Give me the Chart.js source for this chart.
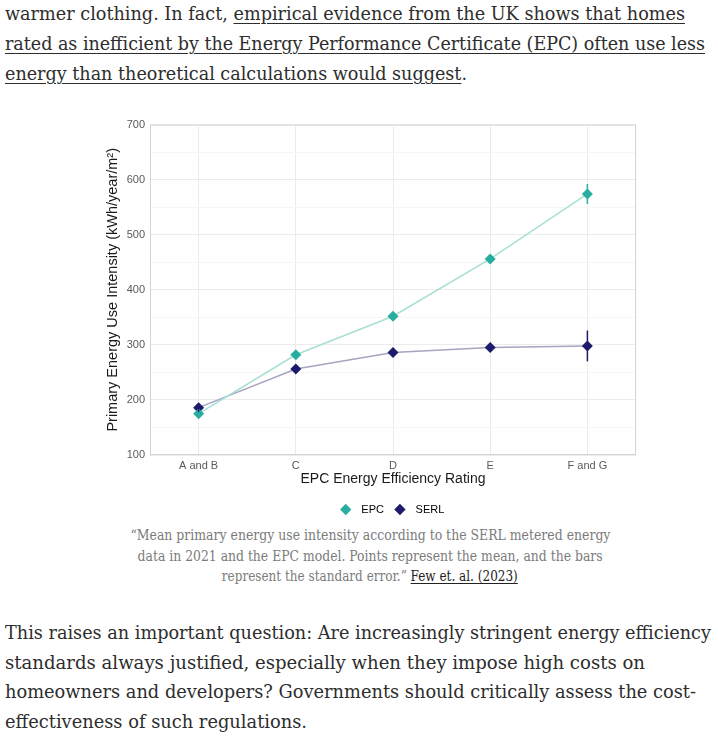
<!DOCTYPE html>
<html><head><meta charset="utf-8">
<script src="https://cdn.jsdelivr.net/npm/chart.js@4/dist/chart.umd.min.js"></script>
<style>
html,body{margin:0;padding:0;background:#fff;width:718px;height:742px;overflow:hidden;position:relative}
.txt{position:absolute;left:5px;font-family:"DejaVu Serif";font-stretch:condensed;font-size:18.5px;color:#2d2d2d;white-space:nowrap}
.txt .l{height:30px;line-height:30px;}
.txt .l span{display:inline-block;transform-origin:0 50%}
.txt a{color:#2d2d2d;text-decoration:underline;text-underline-offset:3px;text-decoration-thickness:1px}
.cap{position:absolute;left:0;width:740px;text-align:center;font-family:"DejaVu Serif";font-stretch:condensed;font-size:14px;color:#7b7b7b;white-space:nowrap}
.cap .l{height:20.5px;line-height:20.5px}
.cap .l span{display:inline-block;transform-origin:50% 50%}
.cap a{color:#222;text-decoration:underline;text-underline-offset:2px}
#wrap{position:absolute;left:100px;top:113px;width:546px;height:412px}
</style></head><body>
<div class="txt" style="top:-1px">
 <div class="l"><span data-w="680">warmer clothing. In fact, <a>empirical evidence from the UK shows that homes</a></span></div>
 <div class="l"><span data-w="700"><a>rated as inefficient by the Energy Performance Certificate (EPC) often use less</a></span></div>
 <div class="l"><span data-w="462"><a>energy than theoretical calculations would suggest</a>.</span></div>
</div>
<div id="wrap"><canvas id="c"></canvas></div>
<div class="cap" style="top:525px">
 <div class="l"><span data-w="480">“Mean primary energy use intensity according to the SERL metered energy</span></div>
 <div class="l"><span data-w="465">data in 2021 and the EPC model. Points represent the mean, and the bars</span></div>
 <div class="l"><span data-w="296">represent the standard error.” <a>Few et. al. (2023)</a></span></div>
</div>
<div class="txt" style="top:618px">
 <div class="l" style="height:29.5px;line-height:29.5px"><span data-w="706">This raises an important question: Are increasingly stringent energy efficiency</span></div>
 <div class="l" style="height:29.5px;line-height:29.5px"><span data-w="640">standards always justified, especially when they impose high costs on</span></div>
 <div class="l" style="height:29.5px;line-height:29.5px"><span data-w="691">homeowners and developers? Governments should critically assess the cost-</span></div>
 <div class="l" style="height:29.5px;line-height:29.5px"><span data-w="302">effectiveness of such regulations.</span></div>
</div>
<script>
// fit text lines to the reference widths
document.querySelectorAll('[data-w]').forEach(function(s){
  var w = s.getBoundingClientRect().width;
  s.style.transform = 'scaleX(' + (parseFloat(s.dataset.w)/w) + ')';
});

const categories = ['A and B', 'C', 'D', 'E', 'F and G'];
const epcMean  = [175, 282, 352, 456, 574];
const epcSE    = [3, 3, 3, 4, 18];
const serlMean = [186, 256, 286, 295, 298];
const serlSE   = [8, 3, 3, 4, 28];
const yTicks = [100, 200, 300, 400, 500, 600, 700];

const EPC_COL = '#28ad9e', EPC_LINE = '#a7dfd4';
const SERL_COL = '#1f1b6c', SERL_LINE = '#a7a4bf';

const errorBars = {
  id: 'errorBars',
  afterDatasetsDraw(chart) {
    const ctx = chart.ctx, y = chart.scales.y;
    chart.data.datasets.forEach((ds, i) => {
      const meta = chart.getDatasetMeta(i);
      ctx.save();
      ctx.strokeStyle = ds.pointBackgroundColor;
      ctx.lineWidth = 1.5;
      meta.data.forEach((pt, j) => {
        const m = ds.data[j], e = ds.se[j];
        ctx.beginPath();
        ctx.moveTo(pt.x, y.getPixelForValue(m - e));
        ctx.lineTo(pt.x, y.getPixelForValue(m + e));
        ctx.stroke();
      });
      ctx.restore();
    });
  }
};
const panelBorder = {
  id: 'panelBorder',
  beforeDatasetsDraw(chart) {
    const a = chart.chartArea, ctx = chart.ctx;
    ctx.save();
    ctx.strokeStyle = '#d4d4d4';
    ctx.lineWidth = 1;
    ctx.strokeRect(a.left + 0.5, a.top + 0.5, a.right - a.left - 1, a.bottom - a.top - 1);
    ctx.restore();
  }
};

new Chart(document.getElementById('c'), {
  type: 'line',
  data: {
    labels: categories,
    datasets: [
      { label: 'EPC', data: epcMean, se: epcSE, borderColor: EPC_LINE, borderWidth: 1.5,
        pointStyle: 'rectRot', pointRadius: 5.5, pointBackgroundColor: EPC_COL, pointBorderColor: EPC_COL, pointBorderWidth: 0 },
      { label: 'SERL', data: serlMean, se: serlSE, borderColor: SERL_LINE, borderWidth: 1.5,
        pointStyle: 'rectRot', pointRadius: 5.5, pointBackgroundColor: SERL_COL, pointBorderColor: SERL_COL, pointBorderWidth: 0 }
    ]
  },
  options: {
    responsive: true, maintainAspectRatio: false, animation: false,
    layout: { padding: { top: 2, right: 10, left: 0, bottom: 0 } },
    plugins: {
      legend: { position: 'bottom', fullSize: false,
        labels: { usePointStyle: true, boxHeight: 8, boxWidth: 8, padding: 12, color: '#1a1a1a',
          font: { family: 'Liberation Sans, Arial', size: 11 },
          generateLabels(chart) {
            return chart.data.datasets.map((d, i) => ({ text: '  ' + d.label, fillStyle: d.pointBackgroundColor,
              strokeStyle: d.pointBackgroundColor, lineWidth: 0, pointStyle: 'rectRot', datasetIndex: i, hidden: false }));
          } } },
      tooltip: { enabled: false }
    },
    scales: {
      x: { type: 'category', offset: true,
        grid: { color: '#ebebeb', drawTicks: false },
        border: { display: false },
        ticks: { color: '#5a5a5a', font: { family: 'Liberation Sans, Arial', size: 11 }, padding: 4 },
        title: { display: true, text: 'EPC Energy Efficiency Rating', color: '#1a1a1a',
          font: { family: 'Liberation Sans, Arial', size: 14 }, padding: { top: 2, bottom: 4 } },
        afterFit(s) { s.height = 37; }
      },
      y: { min: 100, max: 700,
        grid: { drawTicks: false, color: c => (yTicks.includes(c.tick.value) ? '#ebebeb' : '#f6f6f6') },
        border: { display: false },
        ticks: { stepSize: 50, autoSkip: false, padding: 5, color: '#5a5a5a',
          font: { family: 'Liberation Sans, Arial', size: 11 },
          callback: v => (yTicks.includes(v) ? v : '') },
        title: { display: true, text: 'Primary Energy Use Intensity (kWh/year/m²)', color: '#1a1a1a',
          font: { family: 'Liberation Sans, Arial', size: 14.5 }, padding: { top: 4, bottom: 4 } },
        afterFit(s) { s.width = 50; }
      }
    }
  },
  plugins: [panelBorder, errorBars]
});
</script>
</body></html>
